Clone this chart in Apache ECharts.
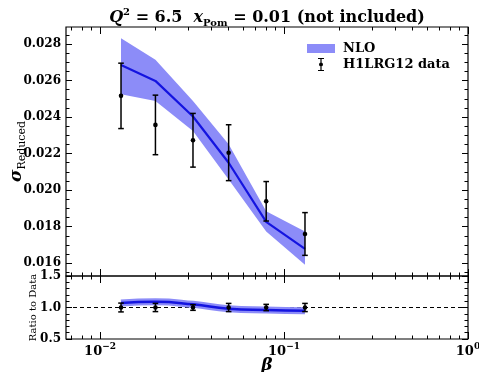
<!DOCTYPE html>
<html>
<head>
<meta charset="utf-8">
<script src="https://cdn.jsdelivr.net/npm/echarts@6/dist/echarts.min.js"></script>
<style>
  html, body { margin: 0; padding: 0; background: #fff; }
  #chart { width: 479px; height: 372px; }
</style>
</head>
<body>
<div id="chart"></div>
<script>
// values
const beta = [0.013, 0.02, 0.032, 0.05, 0.08, 0.13];
const nloCentral = [0.02685, 0.02598, 0.02403, 0.02150, 0.01826, 0.01679];
const nloUpper = [0.02831, 0.02714, 0.02488, 0.02251, 0.01884, 0.01774];
const nloLower = [0.02525, 0.02488, 0.02324, 0.02058, 0.01774, 0.01591];
const dataValue = [0.02516, 0.02357, 0.02273, 0.02205, 0.01939, 0.01760];
const dataError = [0.00179, 0.00163, 0.00147, 0.00153, 0.00108, 0.00117];
const ratioCentral = [1.07, 1.09, 1.05, 0.98, 0.96, 0.95];
const ratioData = [1, 1, 1, 1, 1, 1];
const ratioError = [0.07, 0.065, 0.045, 0.065, 0.05, 0.065];

const xMajor = [0.01, 0.1, 1];
const xMinor = [0.007, 0.008, 0.009, 0.02, 0.03, 0.04, 0.05, 0.06, 0.07, 0.08, 0.09,
  0.2, 0.3, 0.4, 0.5, 0.6, 0.7, 0.8, 0.9];
const yTopMajor = [0.016, 0.018, 0.020, 0.022, 0.024, 0.026, 0.028];
const yTopMinor = [0.0155, 0.0165, 0.017, 0.0175, 0.0185, 0.019, 0.0195, 0.0205, 0.021, 0.0215,
  0.0225, 0.023, 0.0235, 0.0245, 0.025, 0.0255, 0.0265, 0.027, 0.0275, 0.0285];
const yLowMajor = [0.5, 1.0, 1.5];
const yLowMinor = [0.6, 0.7, 0.8, 0.9, 1.1, 1.2, 1.3, 1.4];

const X_MIN = 0.00653, X_MAX = 1;
const Y_TOP = [0.01530, 0.02893];
const Y_LOW = [0.5, 1.5];
const FONT = 'DejaVu Serif';
const BAND = '#8c8cf8';
const LINE = '#1414e0';

function xAxesFor(grid, withLabels) {
  const out = [];
  [['bottom', xMajor, 7], ['bottom', xMinor, 3.5], ['top', xMajor, 7], ['top', xMinor, 3.5]].forEach(function (d, i) {
    const label = withLabels && i === 0;
    out.push({
      type: 'log', logBase: 10, gridIndex: grid, position: d[0], min: X_MIN, max: X_MAX,
      axisLine: { show: false },
      splitLine: { show: false },
      axisTick: { show: true, inside: true, length: d[2], customValues: d[1], lineStyle: { color: '#000', width: 1 } },
      axisLabel: label ? {
        show: true, customValues: xMajor, margin: 3,
        formatter: function (v) { const e = Math.round(Math.log10(v)); return '{b|10}{s|' + (e < 0 ? '\u2212' + (-e) : e) + '}'; },
        rich: {
          b: { fontFamily: FONT, fontSize: 13, fontWeight: 'bold', color: '#000', lineHeight: 16, verticalAlign: 'bottom' },
          s: { fontFamily: FONT, fontSize: 9, fontWeight: 'bold', color: '#000', verticalAlign: 'top', lineHeight: 16 }
        }
      } : { show: false },
      name: label ? '\u03b2' : '',
      nameLocation: 'middle', nameGap: 18, nameMoveOverlap: false,
      nameTextStyle: { fontFamily: FONT, fontSize: 17, fontWeight: 'bold', fontStyle: 'italic', color: '#000' }
    });
  });
  return out;
}

function yAxesFor(grid, range, major, minor, fmt, name, nameGap, nameStyle) {
  const out = [];
  [['left', major, 6], ['left', minor, 3.5], ['right', major, 6], ['right', minor, 3.5]].forEach(function (d, i) {
    const label = i === 0;
    out.push({
      type: 'value', gridIndex: grid, position: d[0], min: range[0], max: range[1],
      axisLine: { show: false },
      splitLine: { show: false },
      axisTick: { show: true, inside: true, length: d[2], customValues: d[1], lineStyle: { color: '#000', width: 1 } },
      axisLabel: label ? {
        show: true, customValues: major, margin: 5, formatter: fmt,
        fontFamily: FONT, fontSize: 12, fontWeight: 'bold', color: '#000'
      } : { show: false },
      name: label ? name : '',
      nameLocation: 'middle', nameGap: nameGap, nameRotate: 90, nameMoveOverlap: false,
      nameTextStyle: nameStyle
    });
  });
  return out;
}

function pairs(xs, ys) { return xs.map(function (x, i) { return [x, ys[i]]; }); }

function renderErr(params, api) {
  const x = api.value(0), y = api.value(1), e = api.value(2);
  const p = api.coord([x, y]);
  const hi = api.coord([x, y + e]);
  const lo = api.coord([x, y - e]);
  const cap = 2.8;
  const st = { stroke: '#000', lineWidth: 1.5 };
  return {
    type: 'group', children: [
      { type: 'line', shape: { x1: p[0], y1: hi[1], x2: p[0], y2: lo[1] }, style: st },
      { type: 'line', shape: { x1: p[0] - cap, y1: hi[1], x2: p[0] + cap, y2: hi[1] }, style: st },
      { type: 'line', shape: { x1: p[0] - cap, y1: lo[1], x2: p[0] + cap, y2: lo[1] }, style: st },
      { type: 'circle', shape: { cx: p[0], cy: p[1], r: 2.3 }, style: { fill: '#000' } }
    ]
  };
}

// NLO band: one polygon, upper edge left->right then lower edge right->left
function renderBand(params, api) {
  if (params.dataIndex !== 0) return null;
  const pts = [];
  for (let i = 0; i < beta.length; i++) pts.push(api.coord([beta[i], nloUpper[i]]));
  for (let i = beta.length - 1; i >= 0; i--) pts.push(api.coord([beta[i], nloLower[i]]));
  return { type: 'polygon', shape: { points: pts }, style: { fill: BAND } };
}

const errIcon = 'path://M0,0H6V1H0Z M2.4,0H3.6V13H2.4Z M0,12H6V13H0Z M3,4.5A2,2 0 1,1 3,8.5A2,2 0 1,1 3,4.5Z';

const chart = echarts.init(document.getElementById('chart'), null, { renderer: 'canvas' });
chart.setOption({
  animation: false,
  backgroundColor: '#fff',
  title: {
    left: 262, top: 2, textAlign: 'center',
    text: '{i|Q}{sup|2}{n| = 6.5  }{i|x}{sub|Pom}{n| = 0.01 (not included)}',
    textStyle: {
      rich: {
        n: { fontFamily: FONT, fontSize: 16, fontWeight: 'bold', color: '#000', lineHeight: 21 },
        i: { fontFamily: FONT, fontSize: 16, fontWeight: 'bold', fontStyle: 'italic', color: '#000', lineHeight: 21 },
        sup: { fontFamily: FONT, fontSize: 10, fontWeight: 'bold', color: '#000', verticalAlign: 'top', lineHeight: 21 },
        sub: { fontFamily: FONT, fontSize: 10, fontWeight: 'bold', color: '#000', verticalAlign: 'bottom', lineHeight: 21 }
      }
    }
  },
  legend: [
    {
      left: 307, top: 42, padding: 0, itemWidth: 28, itemHeight: 9, orient: 'vertical',
      data: [{ name: 'NLO', icon: 'rect', itemStyle: { color: BAND, opacity: 1 } }],
      textStyle: { fontFamily: FONT, fontSize: 13, fontWeight: 'bold', color: '#000', padding: [0, 0, 0, 3] }
    },
    {
      left: 318, top: 58, padding: 0, itemWidth: 6, itemHeight: 13, orient: 'vertical',
      data: [{ name: 'H1LRG12 data', icon: errIcon, itemStyle: { color: '#000' } }],
      textStyle: { fontFamily: FONT, fontSize: 13, fontWeight: 'bold', color: '#000', padding: [0, 0, 0, 14] }
    }
  ],
  grid: [
    { left: 66, right: 11, top: 27, height: 249, show: true, borderColor: '#000', borderWidth: 1.2,
      backgroundColor: 'transparent', containLabel: false, outerBoundsMode: 'none' },
    { left: 66, right: 11, top: 276, height: 63, show: true, borderColor: '#000', borderWidth: 1.2,
      backgroundColor: 'transparent', containLabel: false, outerBoundsMode: 'none' }
  ],
  xAxis: xAxesFor(0, false).concat(xAxesFor(1, true)),
  yAxis: yAxesFor(0, Y_TOP, yTopMajor, yTopMinor, function (v) { return v.toFixed(3); },
      '{s|\u03c3}{sub|Reduced}', 38,
      { rich: {
        s: { fontFamily: FONT, fontSize: 17, fontWeight: 'bold', fontStyle: 'italic', color: '#000', lineHeight: 22 },
        sub: { fontFamily: FONT, fontSize: 11, color: '#000', verticalAlign: 'bottom', lineHeight: 22 }
      } })
    .concat(yAxesFor(1, Y_LOW, yLowMajor, yLowMinor, function (v) { return v.toFixed(1); },
      'Ratio to Data', 28, { fontFamily: FONT, fontSize: 10, color: '#000' })),
  series: [
    { name: 'NLO', type: 'custom', xAxisIndex: 0, yAxisIndex: 0, renderItem: renderBand,
      itemStyle: { color: BAND }, encode: { x: 0, y: 1 }, data: pairs(beta, nloUpper), z: 1 },
    { name: 'NLO central', type: 'line', xAxisIndex: 0, yAxisIndex: 0, data: pairs(beta, nloCentral),
      showSymbol: false, lineStyle: { color: LINE, width: 2.2 }, z: 2 },
    { name: 'H1LRG12 data', type: 'custom', xAxisIndex: 0, yAxisIndex: 0, renderItem: renderErr,
      itemStyle: { color: '#000' },
      encode: { x: 0, y: 1 }, data: beta.map(function (b, i) { return [b, dataValue[i], dataError[i]]; }), z: 3 },

    { name: 'ratio-band', type: 'line', xAxisIndex: 4, yAxisIndex: 4, smooth: true, data: pairs(beta, ratioCentral),
      showSymbol: false, lineStyle: { color: BAND, width: 7 }, z: 2 },
    { name: 'ratio-central', type: 'line', xAxisIndex: 4, yAxisIndex: 4, smooth: true, data: pairs(beta, ratioCentral),
      showSymbol: false, lineStyle: { color: LINE, width: 2.5 }, z: 3,
      markLine: { silent: true, symbol: 'none', label: { show: false }, z: 1,
        lineStyle: { color: '#000', type: [4, 3], width: 1 }, data: [{ yAxis: 1 }] } },
    { name: 'ratio-data', type: 'custom', xAxisIndex: 4, yAxisIndex: 4, renderItem: renderErr,
      encode: { x: 0, y: 1 }, data: beta.map(function (b, i) { return [b, ratioData[i], ratioError[i]]; }), z: 4 }
  ]
});
</script>
</body>
</html>
